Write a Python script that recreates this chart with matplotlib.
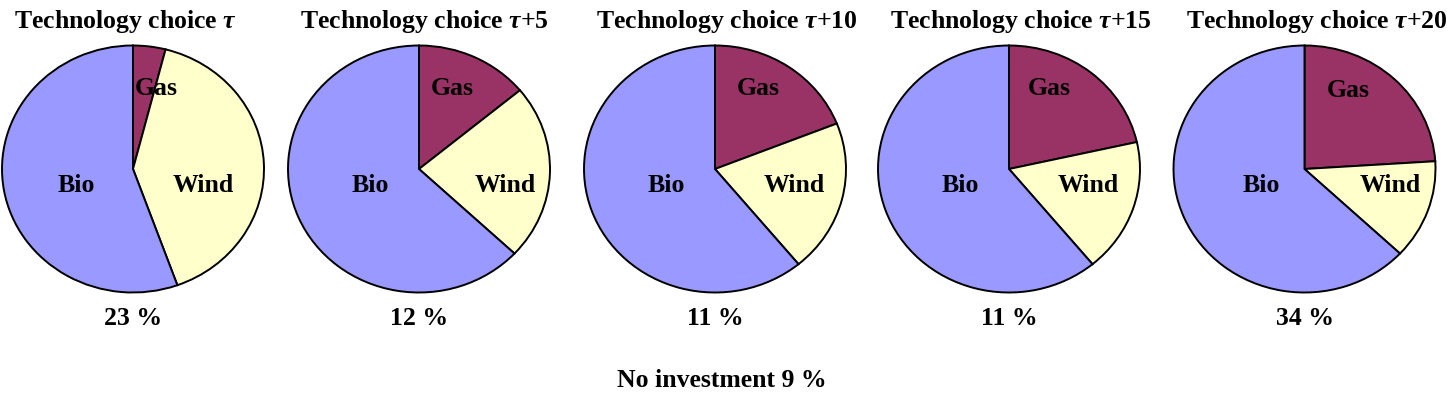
import matplotlib.pyplot as plt

plt.rcParams['font.family'] = ['Liberation Serif', 'DejaVu Serif']
plt.rcParams['mathtext.fontset'] = 'custom'
plt.rcParams['mathtext.it'] = 'Liberation Serif:bold:italic'
plt.rcParams['mathtext.rm'] = 'Liberation Serif:bold'

# data (shares in %)
periods = ["", "+5", "+10", "+15", "+20"]
gas = [4, 14, 19, 21.5, 24]
wind = [40.5, 23, 20, 17.5, 13]
bio = [55.5, 63, 61, 61, 63]
no_invest_share = [23, 12, 11, 11, 34]
no_invest_total = 9

colors = ["#993366", "#FFFFCC", "#9999FF"]  # gas, wind, bio

# layout (pixels)
W, H = 1447, 397
centers_x = [133, 419, 715, 1009, 1304.5]
cy = 169
rx, ry = 131, 123.5
fs = 18.5
# label offsets in pie-radius units (gas, wind, bio), baseline
label_pos = [
    [(0.18, 0.60), (0.534, -0.19), (-0.435, -0.19)],
    [(0.256, 0.60), (0.656, -0.19), (-0.374, -0.19)],
    [(0.328, 0.60), (0.603, -0.19), (-0.374, -0.19)],
    [(0.305, 0.60), (0.603, -0.19), (-0.374, -0.19)],
    [(0.332, 0.585), (0.653, -0.19), (-0.332, -0.19)],
]

fig = plt.figure(figsize=(W / 100, H / 100), dpi=100)
pad = 1.02

for i, cx in enumerate(centers_x):
    left = (cx - rx * pad) / W
    bottom = (H - cy - ry * pad) / H
    ax = fig.add_axes([left, bottom, 2 * rx * pad / W, 2 * ry * pad / H])
    ax.pie([gas[i], wind[i], bio[i]], colors=colors, startangle=90,
           counterclock=False,
           wedgeprops=dict(edgecolor="black", linewidth=1.4))
    ax.set_aspect("auto")
    ax.set_xlim(-pad, pad)
    ax.set_ylim(-pad, pad)
    for name, (lx, ly) in zip(["Gas", "Wind", "Bio"], label_pos[i]):
        ax.text(lx, ly, name, ha="center", va="baseline", fontsize=fs,
                fontweight="bold")

    fig.text((cx - 119) / W, (H - 28) / H,
             r"Technology choice $\tau$" + periods[i],
             ha="left", va="baseline", fontsize=fs, fontweight="bold")
    fig.text(cx / W, (H - 325) / H, f"{no_invest_share[i]} %",
             ha="center", va="baseline", fontsize=fs, fontweight="bold")

fig.text(722 / W, (H - 387) / H, f"No investment {no_invest_total} %",
         ha="center", va="baseline", fontsize=fs, fontweight="bold")

fig.savefig("out.png", dpi=100)
